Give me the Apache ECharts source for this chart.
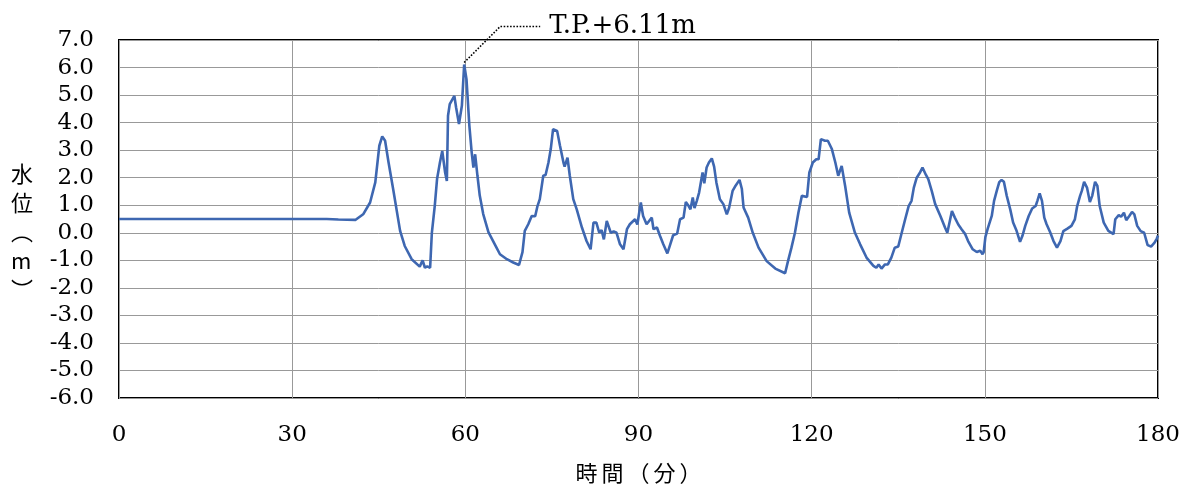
<!DOCTYPE html>
<html><head><meta charset="utf-8">
<script src="https://cdn.jsdelivr.net/npm/echarts@6/dist/echarts.min.js"></script>
<style>html,body{margin:0;padding:0;background:#fff}#c{width:1190px;height:489px}</style>
</head><body><div id="c"></div>
<script>
const times = [0,30,36,38,41,42.3,43.5,44.4,45.1,45.6,46.1,46.7,47.5,48.7,49.5,50.7,52.1,52.6,53.0,53.4,53.9,54.2,54.7,55.1,55.6,56.0,56.5,56.8,57.0,57.3,57.6,58.1,58.4,58.9,59.4,59.8,60.2,60.7,61.1,61.4,61.7,62.1,62.5,63.1,64.0,65.4,66.0,67.2,68.3,69.3,69.6,69.9,70.3,70.9,71.5,72.1,72.5,72.9,73.5,73.9,74.4,74.8,75.2,75.9,76.4,77.0,77.2,77.7,78.1,78.7,79.3,80.2,81.0,81.7,82.2,82.7,83.2,83.6,84.0,84.5,84.7,85.2,85.7,86.2,86.8,87.4,88.0,88.5,89.4,89.8,90.4,90.8,91.4,92.3,92.6,93.2,93.7,94.3,95.0,95.5,96.0,96.7,97.2,97.8,98.2,98.6,99.0,99.4,99.7,100.1,100.5,100.8,101.1,101.4,101.8,102.2,102.7,103.1,103.5,104.1,104.7,105.3,105.7,106.3,106.7,107.0,107.5,107.9,108.2,109.0,109.8,110.8,112.2,113.7,115.4,115.9,116.5,117.1,117.7,118.3,119.2,119.6,120.2,120.8,121.2,121.6,122.3,122.8,123.5,124.1,124.6,125.2,125.8,126.5,127.5,128.4,129.5,130.7,131.2,131.6,132.1,132.7,133.2,133.8,134.4,135.0,135.6,136.2,136.8,137.3,137.7,138.2,138.8,139.2,139.8,140.2,140.8,141.4,142.3,143.1,143.5,144.0,144.3,144.8,145.4,146.0,146.6,147.1,147.9,148.6,149.2,149.6,149.8,150.1,150.5,151.2,151.6,152.1,152.5,152.9,153.3,153.8,154.4,154.9,155.5,156.1,156.5,157.0,157.6,158.2,158.8,159.1,159.5,159.9,160.3,160.7,161.3,161.9,162.5,163.1,163.6,164.3,165.0,165.6,166.0,166.5,166.8,167.2,167.7,168.2,168.6,169.1,169.5,169.9,170.6,171.4,172.3,172.6,173.2,173.6,174.1,174.5,175.0,175.5,175.9,176.4,177.0,177.6,178.2,178.8,179.4,179.8,180];
const levels = [0.5,0.5,0.5,0.48,0.47,0.67,1.1,1.83,3.16,3.5,3.34,2.55,1.58,0.07,-0.48,-0.96,-1.23,-1.0,-1.27,-1.22,-1.27,0,0.97,1.95,2.55,2.97,2.19,1.88,4.25,4.67,4.6,4.97,4.55,3.95,4.61,6.11,5.58,3.88,2.92,2.37,2.85,2.07,1.35,0.68,0.02,-0.54,-0.78,-0.96,-1.08,-1.17,-1.15,-0.7,0.07,0.31,0.61,0.6,0.97,1.22,2.07,2.1,2.55,3.04,3.76,3.7,3.16,2.55,2.4,2.73,2.07,1.22,0.85,0.19,-0.3,-0.6,0.37,0.37,0,0.1,-0.24,0.43,0.5,0,0.05,0,-0.42,-0.6,0.13,0.31,0.49,0.3,1.1,0.61,0.31,0.55,0.13,0.19,-0.1,-0.42,-0.75,-0.42,-0.09,-0.03,0.49,0.55,1.12,1.0,0.85,1.28,0.9,1.16,1.46,1.4,2.19,1.8,2.37,2.55,2.7,2.4,1.82,1.22,1.04,0.67,0.91,1.52,1.67,1.6,1.92,1.6,0.92,0.55,0,-0.54,-1.03,-1.3,-1.47,-1.03,-0.54,0,0.73,1.34,1.3,2.19,2.55,2.67,2.67,3.4,3.34,3.34,3.04,2.55,2.07,2.43,1.7,0.73,0,-0.42,-0.9,-1.2,-1.27,-1.15,-1.3,-1.15,-1.15,-0.9,-0.54,-0.5,0,0.49,0.97,1.16,1.64,2.0,2.2,2.37,2.1,1.95,1.52,1.04,0.61,0.19,0,0.49,0.79,0.55,0.3,0.12,-0.05,-0.3,-0.6,-0.7,-0.65,-0.78,-0.7,-0.15,0.15,0.61,1.16,1.55,1.84,1.92,1.85,1.34,0.85,0.37,0.07,-0.33,-0.12,0.25,0.61,0.88,0.97,1.16,1.43,1.16,0.55,0.31,0.03,-0.3,-0.54,-0.3,0.06,0.15,0.25,0.49,0.97,1.34,1.52,1.85,1.64,1.12,1.34,1.85,1.7,0.97,0.37,0.07,-0.05,0.49,0.64,0.58,0.73,0.46,0.6,0.76,0.67,0.25,0.06,0,-0.45,-0.5,-0.36,-0.21,-0.1];
const xTicks = [0,30,60,90,120,150,180];
const yRange = [-6, 7];
const peakLabel = 'T.P.+6.11m';
const xTitleChars = ['時','間','（','分','）'];
const yTitle = '水\n位\n︵\nm\n︶';

const SERIF = '"DejaVu Serif", "Liberation Serif", serif';
const CJK = '"Noto Sans CJK JP", sans-serif';
const chart = echarts.init(document.getElementById('c'));
const data = times.map((t, i) => [t, levels[i]]);
chart.setOption({
  animation: false,
  grid: {left: 119, right: 32, top: 40, bottom: 91, show: true, borderColor: '#000', borderWidth: 2, backgroundColor: 'transparent'},
  xAxis: {
    type: 'value', min: xTicks[0], max: xTicks[xTicks.length - 1], interval: 30,
    axisLine: {show: false}, axisTick: {show: false},
    axisLabel: {margin: 26, fontFamily: SERIF, fontSize: 23, color: '#000'},
    splitLine: {show: true, lineStyle: {color: '#999', width: 1}},
    name: xTitleChars.map(c => '{a|' + c + '}').join(''), nameLocation: 'middle', nameGap: 64,
    nameTextStyle: {rich: {a: {fontFamily: CJK, fontSize: 22, color: '#000', padding: [0, 2]}}}
  },
  yAxis: {
    type: 'value', min: yRange[0], max: yRange[1], interval: 1,
    axisLine: {show: false}, axisTick: {show: false},
    axisLabel: {margin: 25, fontFamily: SERIF, fontSize: 23, color: '#000', formatter: v => v.toFixed(1)},
    splitLine: {show: true, lineStyle: {color: '#999', width: 1}}
  },
  series: [{
    type: 'line', data: data, showSymbol: false, smooth: false,
    lineStyle: {color: '#3E67B1', width: 2.6}
  }]
});

// annotation leader from peak value
let pi = 0;
levels.forEach((v, i) => { if (v > levels[pi]) pi = i; });
const p = chart.convertToPixel({gridIndex: 0}, [times[pi], levels[pi]]);
const elbow = [p[0] + 36, p[1] - 38];
const end = [elbow[0] + 40, elbow[1]];
chart.setOption({
  graphic: [{
    type: 'text', left: 11, top: 159,
    style: {text: yTitle, font: '22px ' + CJK, fill: '#000', lineHeight: 29, align: 'center'}
  }, {
    type: 'polyline', shape: {points: [[p[0], p[1] - 2], elbow, end]},
    style: {stroke: '#000', lineWidth: 1.6, lineDash: [1.6, 1.6], fill: null}, z: 10
  }, {
    type: 'text', x: end[0] + 9, y: end[1], z: 10,
    style: {text: peakLabel, font: '26px ' + SERIF, fill: '#000', verticalAlign: 'middle', textAlign: 'left'}
  }]
});
</script></body></html>
